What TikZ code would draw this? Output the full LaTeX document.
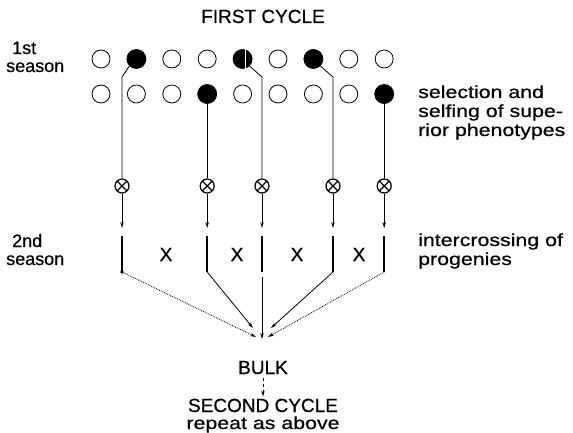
\documentclass[tikz,border=0pt]{standalone}
\usepackage{fontspec}
\setmainfont{Liberation Sans}
\newfontfamily\capfont{Liberation Sans}[FakeBold=0.6]
\newfontfamily\lowfont{Liberation Sans}[FakeStretch=1.22,FakeBold=0.6]
\usetikzlibrary{arrows.meta}
\begin{document}
\begin{tikzpicture}[x=1pt,y=-1pt,
  plant/.style={circle,draw,line width=0.8pt,minimum size=18pt,inner sep=0pt},
  chosen/.style={circle,draw,fill=black,line width=0.8pt,minimum size=19pt,inner sep=0pt},
  selfing/.style={circle,draw,line width=1.2pt,minimum size=14pt,inner sep=0pt,
    path picture={\draw[line width=1.2pt] (path picture bounding box.south west) -- (path picture bounding box.north east)
      (path picture bounding box.north west) -- (path picture bounding box.south east);}},
  thin/.style={line width=0.8pt},
  tip/.style={-{Stealth[length=6pt,width=3.5pt]}},
  bar/.style={line width=2.4pt},
  lbl/.style={anchor=base west,inner sep=0pt,font=\lowfont\fontsize{17.5}{19}\selectfont},
  side/.style={anchor=base west,inner sep=0pt,font=\capfont\fontsize{18}{20}\selectfont},
  ctr/.style={anchor=base,inner sep=0pt,font=\capfont\fontsize{19}{21}\selectfont},
  ctrl/.style={anchor=base,inner sep=0pt,font=\lowfont\fontsize{17.5}{19}\selectfont}
]
\useasboundingbox (0,0) rectangle (573,433);

% titles
\node[ctr] (first) at (263,23) {FIRST CYCLE};
\node[side] (s1a) at (12,54) {1st};
\node[side] (s1b) at (6,72) {season};
\node[side] (s2a) at (12,247) {2nd};
\node[side] (s2b) at (6,265) {season};
\node[lbl] (r1) at (418,98) {selection and};
\node[lbl] (r2) at (418,117) {selfing of supe-};
\node[lbl] (r3) at (418,136) {rior phenotypes};
\node[lbl] (r4) at (418,246) {intercrossing of};
\node[lbl] (r5) at (418,265) {progenies};

% row 1
\node[plant]  (a0) at (101,59) {};
\node[chosen] (a1) at (136.4,59) {};
\node[plant]  (a2) at (171.8,59) {};
\node[plant]  (a3) at (207.2,59) {};
\node[chosen] (a4) at (242.6,59) {};
\node[plant]  (a5) at (278,59) {};
\node[chosen] (a6) at (313.4,59) {};
\node[plant]  (a7) at (348.8,59) {};
\node[plant]  (a8) at (384.2,59) {};
\draw[white,line width=0.8pt] ([xshift=2.5pt]a4.north) -- ([xshift=2.5pt]a4.south);
% row 2
\node[plant]  (b0) at (101,94) {};
\node[plant]  (b1) at (136.4,94) {};
\node[plant]  (b2) at (171.8,94) {};
\node[chosen] (b3) at (207.2,94) {};
\node[plant]  (b4) at (242.6,94) {};
\node[plant]  (b5) at (278,94) {};
\node[plant]  (b6) at (313.4,94) {};
\node[plant]  (b7) at (348.8,94) {};
\node[chosen] (b8) at (384.2,94) {};

% selfing symbols
\node[selfing] (x1) at (122,186) {};
\node[selfing] (x2) at (207.2,186) {};
\node[selfing] (x3) at (262,186) {};
\node[selfing] (x4) at (333,186) {};
\node[selfing] (x5) at (384.2,186) {};

% bend points
\coordinate (k1) at (122,77);
\coordinate (k3) at (262,77);
\coordinate (k4) at (333,77);

\draw[thin] (a1.225) -- (k1) -- (x1.north);
\draw[thin] (b3.south) -- (x2.north);
\draw[thin] (a4.315) -- (k3) -- (x3.north);
\draw[thin] (a6.315) -- (k4) -- (x4.north);
\draw[thin] (b8.south) -- (x5.north);

% progeny rows
\coordinate (p1t) at (122,236);  \coordinate (p1b) at (122,272);
\coordinate (p2t) at (207.2,236);\coordinate (p2b) at (207.2,272);
\coordinate (p3t) at (262,236);  \coordinate (p3b) at (262,272);
\coordinate (p4t) at (333,236);  \coordinate (p4b) at (333,272);
\coordinate (p5t) at (384.2,236);\coordinate (p5b) at (384.2,272);

\draw[thin,tip] (x1.south) -- ([yshift=8pt]p1t);
\draw[thin,tip] (x2.south) -- ([yshift=8pt]p2t);
\draw[thin,tip] (x3.south) -- ([yshift=8pt]p3t);
\draw[thin,tip] (x4.south) -- ([yshift=8pt]p4t);
\draw[thin,tip] (x5.south) -- ([yshift=8pt]p5t);

\draw[bar] (p1t) -- (p1b);
\fill (p1b) circle (1.8pt);
\draw[bar] (p2t) -- (p2b);
\draw[bar] (p3t) -- (p3b);
\draw[bar] (p4t) -- (p4b);
\draw[bar] (p5t) -- (p5b);

\node[ctr] (c1) at (166,261) {X};
\node[ctr] (c2) at (237,261) {X};
\node[ctr] (c3) at (297,261) {X};
\node[ctr] (c4) at (359,261) {X};

% convergence
\coordinate (t1) at (256,337);
\coordinate (t2) at (253,328);
\coordinate (t3) at (262,339);
\coordinate (t4) at (271,328);
\coordinate (t5) at (268,337);
\draw[thin,tip,densely dotted] (p1b) -- (t1);
\draw[thin,tip] (p2b) -- (t2);
\draw[thin,tip] ([yshift=-5pt]p3b) -- (t3);
\draw[thin,tip] (p4b) -- (t4);
\draw[thin,tip,densely dotted] (p5b) -- (t5);

\node[ctr] (bulk) at (263,374) {BULK};
\node[ctr] (second) at (263,412) {SECOND CYCLE};
\node[ctrl] (repeat) at (263,429) {repeat as above};
\draw[thin,tip,dashed] ([yshift=-4pt]bulk.south) -- ([yshift=2pt]second.north);
\end{tikzpicture}
\end{document}
